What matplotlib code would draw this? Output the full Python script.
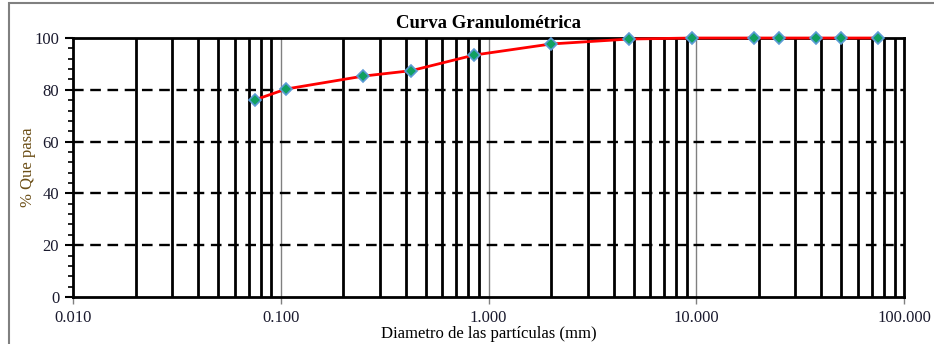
import matplotlib
matplotlib.use("Agg")
import matplotlib.pyplot as plt
from matplotlib.ticker import FixedLocator, NullLocator, MultipleLocator
from matplotlib.patches import Rectangle

plt.rcParams['font.family'] = ['Liberation Serif', 'DejaVu Serif']

# Data
diam_mm = [75.0, 50.0, 37.5, 25.0, 19.0, 9.5, 4.75, 2.0, 0.85, 0.425, 0.25, 0.106, 0.075]
pct_pass = [100.0, 100.0, 100.0, 100.0, 100.0, 100.0, 99.6, 97.7, 93.4, 87.4, 85.3, 80.3, 76.1]
x_major = [0.01, 0.1, 1.0, 10.0, 100.0]
x_labels = ["0.010", "0.100", "1.000", "10.000", "100.000"]
y_major = [0, 20, 40, 60, 80, 100]

fig = plt.figure(figsize=(9.34, 3.44), dpi=100)
ax = fig.add_axes([0.0782, 0.1366, 0.8897, 0.7529])

ax.set_xscale('log')
ax.set_xlim(0.01, 100)
ax.set_ylim(0, 100)

# vertical minor grid lines (thick black)
minor_x = [m * d for d in [0.01, 0.1, 1.0, 10.0] for m in range(2, 10)]
for xv in minor_x:
    ax.axvline(xv, color='black', lw=2.0, zorder=1)
# major vertical lines thin gray
for xv in x_major[1:-1]:
    ax.axvline(xv, color='#808080', lw=1.0, zorder=1)
# horizontal dashed grid
for yv in y_major[1:-1]:
    ax.axhline(yv, color='black', lw=1.7, ls=(0, (4.5, 2.8)), zorder=1)

ax.plot(diam_mm, pct_pass, color='#ff0000', lw=2.0, zorder=3, clip_on=False,
        marker='D', markersize=6.5, markerfacecolor='#10a060',
        markeredgecolor='#5b9bd5', markeredgewidth=1.2)

ax.xaxis.set_major_locator(FixedLocator(x_major))
ax.xaxis.set_minor_locator(NullLocator())
ax.set_xticklabels(x_labels)
ax.yaxis.set_major_locator(FixedLocator(y_major))
ax.yaxis.set_minor_locator(MultipleLocator(4))

ax.tick_params(axis='x', which='major', direction='out', length=5, width=1.0,
               color='#808080', labelsize=12, pad=4, labelcolor='#1a1a2e')
ax.tick_params(axis='y', which='major', direction='out', length=6, width=1.5,
               color='black', labelsize=12, pad=4, labelcolor='#1a1a2e')
ax.tick_params(axis='y', which='minor', direction='out', length=3.5, width=1.2, color='black')

for s in ['top', 'bottom', 'left', 'right']:
    ax.spines[s].set_linewidth(2.0)
    ax.spines[s].set_color('black')

ax.set_title('Curva Granulométrica', fontsize=13.5, fontweight='bold', pad=7)
ax.set_xlabel('Diametro de las partículas (mm)', fontsize=12)
ax.xaxis.set_label_coords(0.5, -0.112)
ax.set_ylabel('% Que pasa', fontsize=12, color='#6b4e16')
ax.yaxis.set_label_coords(-0.045, 0.5)

# figure border
fig.patches.append(Rectangle((9/934, -0.1), 1.2, 1 - 3/344 + 0.1, transform=fig.transFigure,
                             fill=False, edgecolor='#808080', lw=1.5, zorder=0))

fig.savefig('out.png', dpi=100)
